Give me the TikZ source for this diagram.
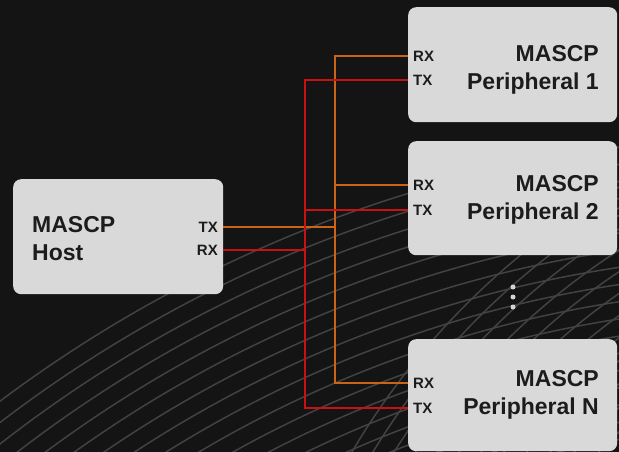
\documentclass[tikz,border=0pt]{standalone}
\usepackage{fontspec}
\setmainfont{Liberation Sans}
\definecolor{bgdark}{HTML}{141414}
\definecolor{arcgray}{HTML}{424242}
\definecolor{boxgray}{HTML}{D9D9D9}
\definecolor{ink}{HTML}{1C1C1C}
\definecolor{wireorange}{HTML}{CC6418}
\definecolor{wirered}{HTML}{C81212}
\definecolor{dotgray}{HTML}{D4D4D4}
\begin{document}
\begin{tikzpicture}[x=1pt,y=-1pt]
    \tikzstyle{bgarc}=[draw=arcgray, line width=1.5pt]
    \tikzstyle{devbox}=[fill=boxgray, rounded corners=8pt, minimum width=209pt, anchor=north west, inner sep=0pt]
    \tikzstyle{devtitle}=[font=\bfseries\fontsize{23}{28}\selectfont, text=ink, inner sep=0pt]
    \tikzstyle{pinlbl}=[font=\bfseries\fontsize{15}{15}\selectfont, text=ink, inner sep=0pt]
    \tikzstyle{owire}=[draw=wireorange, line width=2.8pt]
    \tikzstyle{rwire}=[draw=wirered, line width=2.8pt]
    \tikzstyle{moredot}=[circle, fill=dotgray, minimum size=5pt, inner sep=0pt]
    \useasboundingbox (0,0) rectangle (619,452);
    \fill[bgdark] (0,0) rectangle (619,452);
    % background sweep
    \begin{scope}
      \clip (0,0) rectangle (619,452);
      \foreach \k in {0,...,18} \draw[bgarc] (800,1470) circle[radius={(1335-17*\k)*1pt}];
      \foreach \k in {0,...,12} \draw[bgarc] (986,824) circle[radius={(735-18*\k)*1pt}];
    \end{scope}
    \node[devbox, minimum width=210pt, minimum height=115pt] (host) at (13,179){};
    \node[devbox, minimum height=115pt] (per1) at (408,7){};
    \node[devbox, minimum height=114pt] (per2) at (408,141){};
    \node[devbox, minimum height=112pt] (perN) at (408,339){};
    \node[devtitle, align=left, anchor=north west] (hname) at (32,216){MASCP\\Host};
    \node[devtitle, align=right, anchor=north east] (p1name) at (599,45){MASCP\\Peripheral 1};
    \node[devtitle, align=right, anchor=north east] (p2name) at (599,175){MASCP\\Peripheral 2};
    \node[devtitle, align=right, anchor=north east] (pNname) at (599,370){MASCP\\Peripheral N};
    \node[pinlbl, anchor=east] (htx) at (218,227){TX};
    \node[pinlbl, anchor=east] (hrx) at (218,250){RX};
    \node[pinlbl, anchor=west] (p1rx) at (413,56){RX};
    \node[pinlbl, anchor=west] (p1tx) at (413,80){TX};
    \node[pinlbl, anchor=west] (p2rx) at (413,185){RX};
    \node[pinlbl, anchor=west] (p2tx) at (413,210){TX};
    \node[pinlbl, anchor=west] (pNrx) at (413,383){RX};
    \node[pinlbl, anchor=west] (pNtx) at (413,408){TX};
    \coordinate (obus) at (335,383);
    \coordinate (rbus) at (305,408);
    % host TX -> peripheral RX
    \draw[owire] (per1.west |- p1rx) -| (obus) -- (perN.west |- pNrx);
    \draw[owire] (per2.west |- p2rx) -- (p2rx -| obus);
    \draw[owire] (host.east |- htx) -- (htx -| obus);
    % peripheral TX -> host RX
    \draw[rwire] (per1.west |- p1tx) -| (rbus) -- (perN.west |- pNtx);
    \draw[rwire] (per2.west |- p2tx) -- (p2tx -| rbus);
    \draw[rwire] (host.east |- hrx) -- (hrx -| rbus);
    \foreach \i/\y in {1/287,2/297,3/307}
      \node[moredot] (e\i) at (513,\y){};
  \end{tikzpicture}
\end{document}
